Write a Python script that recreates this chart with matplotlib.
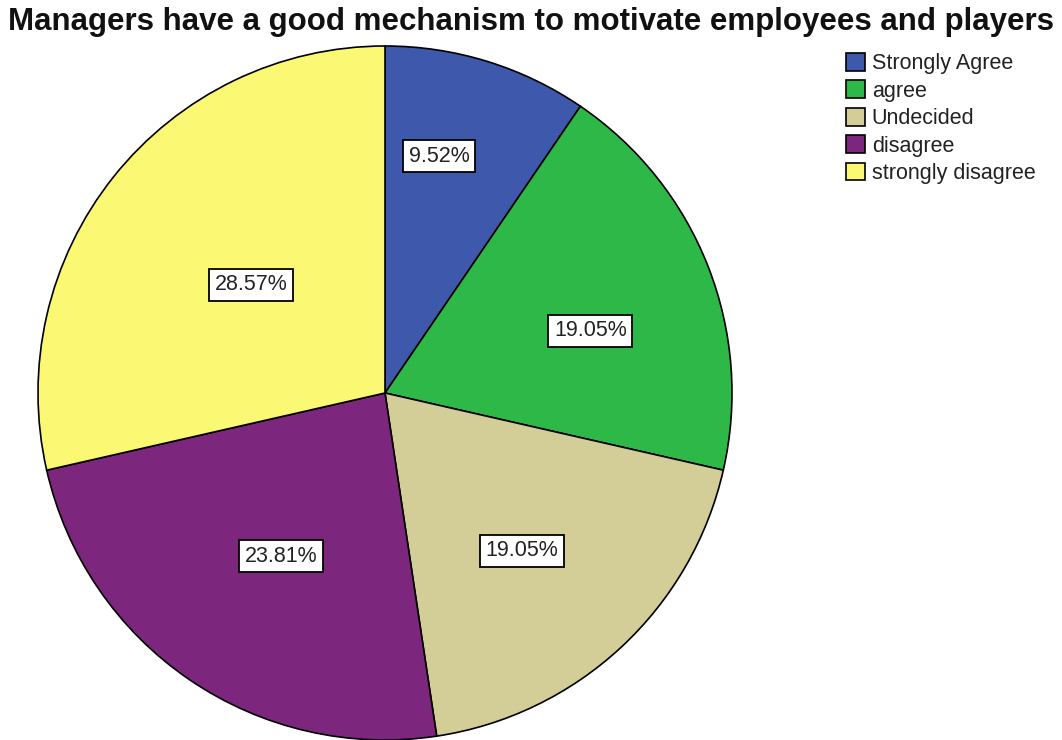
import matplotlib
matplotlib.use("Agg")
import matplotlib.pyplot as plt
import numpy as np

plt.rcParams['font.family'] = ['Liberation Sans', 'DejaVu Sans']

categories = ["Strongly Agree", "agree", "Undecided", "disagree", "strongly disagree"]
values = [9.52, 19.05, 19.05, 23.81, 28.57]
colors = ["#3E58AC", "#2EB848", "#D3CE97", "#7C277D", "#FBF873"]
# label placement: radial fraction and small angular offset (deg) from wedge middle
label_frac = [0.70, 0.618, 0.602, 0.557, 0.496]
label_dang = [4.3, -4.6, -2.0, 1.8, -0.3]

W, H = 1062, 740
fig = plt.figure(figsize=(W / 100, H / 100), dpi=100)
R = 347
cx, cy = 385, 393
ax = fig.add_axes([(cx - R) / W, (H - cy - R) / H, 2 * R / W, 2 * R / H])
wedges, _ = ax.pie(values, colors=colors, startangle=90, counterclock=False,
                   radius=1, wedgeprops=dict(edgecolor="black", linewidth=1.2))
ax.set_xlim(-1, 1)
ax.set_ylim(-1, 1)
ax.set_aspect("equal")
ax.axis("off")

for w, v, f, da in zip(wedges, values, label_frac, label_dang):
    ang = np.deg2rad((w.theta1 + w.theta2) / 2 + da)
    ax.text(f * np.cos(ang), f * np.sin(ang), f"{v:.2f}%", ha="center", va="center",
            fontsize=15.5, color="#222222",
            bbox=dict(boxstyle="square,pad=0.26", fc="white", ec="black", lw=1.3))

fig.text(0.5, 1 - 22 / H, "Managers have a good mechanism to motivate employees and players",
         ha="center", va="center", fontsize=22.5, fontweight="bold", color="#111111")

fig.legend(wedges, categories, loc="upper left", bbox_to_anchor=(846 / W, 1 - 53 / H),
           frameon=False, fontsize=15.5, handlelength=0.9, handleheight=0.9,
           handletextpad=0.3, labelspacing=0.28, borderpad=0, borderaxespad=0,
           labelcolor="#222222")

fig.savefig("out.png", dpi=100)
